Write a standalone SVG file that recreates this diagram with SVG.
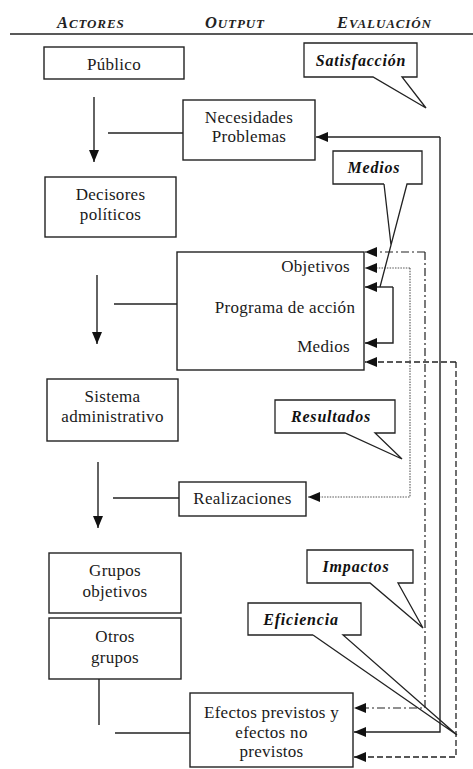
<svg xmlns="http://www.w3.org/2000/svg" width="473" height="769" viewBox="0 0 473 769">
<defs>
<style>
.box{fill:#fff;stroke:#222;stroke-width:1.4}
.t{font-family:"Liberation Serif","Times New Roman",serif;font-size:17px;fill:#1a1a1a;letter-spacing:0.3px;text-anchor:middle}
.r{text-anchor:end}
.c{font-family:"Liberation Serif","Times New Roman",serif;font-size:16px;font-weight:bold;font-style:italic;fill:#111;letter-spacing:0.8px;text-anchor:middle}
.callout{fill:#fff;stroke:#222;stroke-width:1.3;stroke-linejoin:miter}
.h{font-family:"Liberation Serif","Times New Roman",serif;font-weight:bold;font-style:italic;fill:#222;letter-spacing:0.9px}
.ln{fill:none;stroke:#222;stroke-width:1.4}
.solid{fill:none;stroke:#222;stroke-width:1.4}
.dashdot{fill:none;stroke:#222;stroke-width:1.2;stroke-dasharray:8 3 2 3}
.dotted{fill:none;stroke:#555;stroke-width:1.1;stroke-dasharray:1.5 1.2}
.dashed{fill:none;stroke:#222;stroke-width:1.3;stroke-dasharray:6 3}
</style>
<marker id="ah" markerUnits="userSpaceOnUse" markerWidth="13" markerHeight="11" refX="12" refY="5" orient="auto">
<path d="M0,0 L12,5 L0,10 Z" fill="#111"/>
</marker>
</defs>
<rect width="473" height="769" fill="#fff"/>

<g id="header">
<text class="h" x="57" y="28"><tspan font-size="16.5">A</tspan><tspan font-size="13">CTORES</tspan></text>
<text class="h" x="205" y="28"><tspan font-size="16.5">O</tspan><tspan font-size="13">UTPUT</tspan></text>
<text class="h" x="337" y="28"><tspan font-size="16.5">E</tspan><tspan font-size="13">VALUACIÓN</tspan></text>
<line x1="10" y1="34" x2="473" y2="34" stroke="#222" stroke-width="1.3"/>
</g>

<g id="connectors">
<line class="ln" x1="94" y1="97" x2="94" y2="162" marker-end="url(#ah)"/>
<line class="ln" x1="108" y1="133" x2="183" y2="133"/>
<line class="ln" x1="97" y1="275" x2="97" y2="344" marker-end="url(#ah)"/>
<line class="ln" x1="114" y1="304" x2="177" y2="304"/>
<line class="ln" x1="98" y1="462" x2="98" y2="528" marker-end="url(#ah)"/>
<line class="ln" x1="113" y1="498" x2="179" y2="498"/>
<line class="ln" x1="99" y1="679" x2="99" y2="725"/>
<line class="ln" x1="115" y1="733" x2="190" y2="733"/>

<path class="solid" d="M440,137 H316" marker-end="url(#ah)"/>
<path class="solid" d="M440,137 V732 H354" marker-end="url(#ah)"/>

<path class="dashdot" d="M425,252 H365" marker-end="url(#ah)"/>
<path class="dashdot" d="M425,252 V708 H354" marker-end="url(#ah)"/>

<path class="dotted" d="M410,268 H365" marker-end="url(#ah)"/>
<path class="dotted" d="M410,268 V497 H308" marker-end="url(#ah)"/>

<path class="solid" d="M393,287 H365" marker-end="url(#ah)"/>
<path class="solid" d="M393,287 V343 H365" marker-end="url(#ah)"/>

<path class="dashed" d="M456,362 H365" marker-end="url(#ah)"/>
<path class="dashed" d="M456,362 V757 H354" marker-end="url(#ah)"/>
</g>

<g id="publico">
<rect class="box" x="44" y="47" width="140" height="32"/>
<text class="t" x="114" y="70">Público</text>
</g>

<g id="necesidades">
<rect class="box" x="183" y="100" width="132" height="60"/>
<text class="t" x="249" y="123">Necesidades</text>
<text class="t" x="249" y="142">Problemas</text>
</g>

<g id="decisores">
<rect class="box" x="45" y="177" width="131" height="60"/>
<text class="t" x="110.5" y="200">Decisores</text>
<text class="t" x="110.5" y="220">políticos</text>
</g>

<g id="programa">
<rect class="box" x="177" y="252" width="187" height="118"/>
<text class="t r" x="350" y="272">Objetivos</text>
<text class="t" x="285" y="313">Programa de acción</text>
<text class="t r" x="350" y="352">Medios</text>
</g>

<g id="sistema">
<rect class="box" x="47" y="379" width="131" height="62"/>
<text class="t" x="112.5" y="402">Sistema</text>
<text class="t" x="112.5" y="422">administrativo</text>
</g>

<g id="realizaciones">
<rect class="box" x="179" y="482" width="127" height="34"/>
<text class="t" x="242.5" y="504">Realizaciones</text>
</g>

<g id="grupos-objetivos">
<rect class="box" x="49" y="553" width="132" height="60"/>
<text class="t" x="115" y="576">Grupos</text>
<text class="t" x="115" y="597">objetivos</text>
</g>

<g id="otros-grupos">
<rect class="box" x="49" y="618" width="132" height="61"/>
<text class="t" x="115" y="642">Otros</text>
<text class="t" x="115" y="663">grupos</text>
</g>

<g id="efectos">
<rect class="box" x="190" y="693" width="163" height="74"/>
<text class="t" x="271.5" y="718">Efectos previstos y</text>
<text class="t" x="271.5" y="738">efectos no</text>
<text class="t" x="271.5" y="757">previstos</text>
</g>

<g id="satisfaccion">
<path class="callout" d="M304,43 H417 V77 H402 L426,108 L373,77 H304 Z"/>
<text class="c" x="361" y="66">Satisfacción</text>
</g>

<g id="medios-callout">
<rect x="333" y="151" width="89" height="33" fill="#fff" stroke="none"/>
<path class="callout" style="fill:none" d="M384,184 H333 V151 H422 V184 H407 L380,287 M384,184 L391,245"/>
<text class="c" x="374" y="173">Medios</text>
</g>

<g id="resultados">
<path class="callout" d="M275,400 H395 V433 H375 L402,459 L345,433 H275 Z"/>
<text class="c" x="331" y="422">Resultados</text>
</g>

<g id="impactos">
<path class="callout" d="M307,550 H413 V583 H398 L423,628 L370,583 H307 Z"/>
<text class="c" x="356" y="572">Impactos</text>
</g>

<g id="eficiencia">
<path class="callout" style="fill:none" d="M313,635 H248 V603 H361 V635 H343 L457,735 L313,635"/>
<rect x="249" y="604" width="111" height="30" fill="#fff" stroke="none"/>
<text class="c" x="301" y="625">Eficiencia</text>
</g>
</svg>
